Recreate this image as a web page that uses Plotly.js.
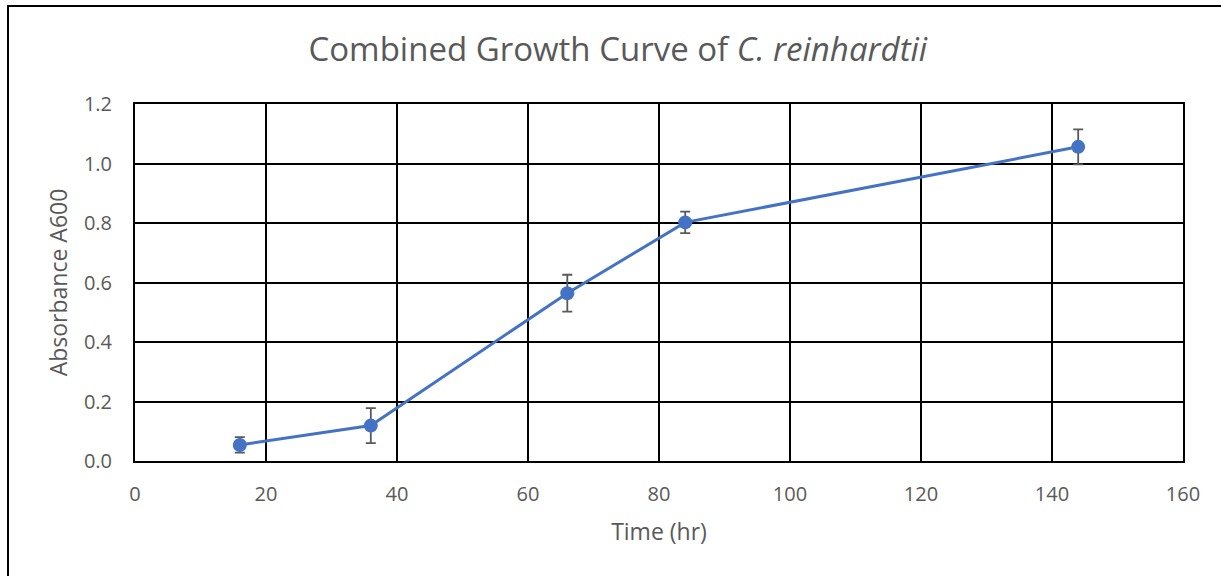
<!DOCTYPE html>
<html>
<head>
<meta charset="utf-8">
<script src="https://cdn.plot.ly/plotly-3.0.1.min.js"></script>
<style>
  html, body { margin: 0; padding: 0; background: #fff; }
  #chart { position: absolute; left: 0; top: 0; width: 1221px; height: 576px; }
  #frame { position: absolute; left: 7px; top: 5px; width: 1214px; height: 571px;
           border-left: 2px solid #000; border-top: 2px solid #000; box-sizing: border-box;
           pointer-events: none; }
</style>
</head>
<body>
<div id="chart"></div>
<div id="frame"></div>
<script>
const timeHr = [16, 36, 66, 84, 144];
const absorbance = [0.054, 0.119, 0.564, 0.802, 1.056];
const absError = [0.026, 0.059, 0.062, 0.036, 0.059];
const xTicks = [0, 20, 40, 60, 80, 100, 120, 140, 160];
const yTicks = [0, 0.2, 0.4, 0.6, 0.8, 1.0, 1.2];
const yTickText = ['0.0', '0.2', '0.4', '0.6', '0.8', '1.0', '1.2'];

const font = 'Open Sans, Lato, sans-serif';
const gray = '#595959';

const trace = {
  x: timeHr, y: absorbance, type: 'scatter', mode: 'lines+markers',
  line: { color: '#4472C4', width: 3 },
  marker: { color: '#4472C4', size: 14 },
  error_y: { type: 'data', array: absError, visible: true, color: gray, thickness: 1.8, width: 5 },
  showlegend: false
};

const layout = {
  width: 1221, height: 576,
  margin: { l: 135, r: 38, t: 104, b: 115 },
  paper_bgcolor: '#fff', plot_bgcolor: '#fff',
  title: { text: 'Combined Growth Curve of <i>C. reinhardtii</i>', x: 0.506, xref: 'container',
           y: 0.915, yref: 'container', yanchor: 'middle',
           font: { family: font, size: 33, color: gray } },
  xaxis: {
    range: [0, 160], tickvals: xTicks, ticktext: xTicks.map(String),
    showgrid: true, gridcolor: '#000', gridwidth: 2,
    showline: true, linecolor: '#000', linewidth: 2, mirror: true,
    zeroline: false, ticks: '', ticklen: 0, ticklabelstandoff: 14,
    tickfont: { family: font, size: 20, color: gray },
    title: { text: 'Time (hr)', font: { family: font, size: 23, color: gray }, standoff: 18 }
  },
  yaxis: {
    range: [0, 1.2], tickvals: yTicks, ticktext: yTickText,
    showgrid: true, gridcolor: '#000', gridwidth: 2,
    showline: true, linecolor: '#000', linewidth: 2, mirror: true,
    zeroline: false, ticks: '', ticklen: 0, ticklabelstandoff: 17,
    tickfont: { family: font, size: 20, color: gray },
    title: { text: 'Absorbance A600', font: { family: font, size: 23, color: gray }, standoff: 10 }
  }
};

Plotly.newPlot('chart', [trace], layout, { displayModeBar: false, staticPlot: true });
</script>
</body>
</html>
